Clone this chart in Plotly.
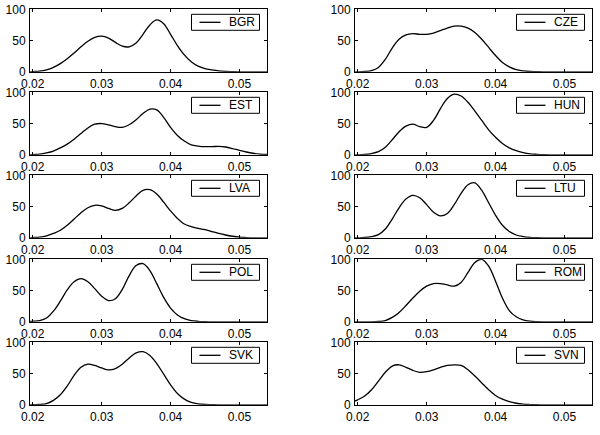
import plotly.graph_objects as go

# shared x grid (rate values)
x_grid = [0.0196, 0.020, 0.021, 0.022, 0.023, 0.024, 0.025, 0.026, 0.027, 0.028,
          0.029, 0.030, 0.031, 0.032, 0.033, 0.034, 0.035, 0.036, 0.037, 0.038,
          0.039, 0.040, 0.041, 0.042, 0.043, 0.044, 0.045, 0.046, 0.047, 0.048,
          0.049, 0.050, 0.051, 0.052, 0.053, 0.054]

countries = ["BGR", "CZE", "EST", "HUN", "LVA", "LTU", "POL", "ROM", "SVK", "SVN"]

bgr = [0, 0.3, 1, 3, 7, 13, 21, 30, 40, 49, 55, 57, 54, 47, 41, 40, 46, 60, 75, 83,
       77, 60, 42, 27, 16, 9, 5, 3, 1.5, 0.7, 0.3, 0, 0, 0, 0, 0]
cze = [0, 0, 0.5, 2, 7, 20, 38, 52, 59, 61, 60, 60, 62, 66, 70, 73, 73, 70, 63, 52,
       39, 26, 15, 8, 3.5, 1.5, 0.5, 0.2, 0, 0, 0, 0, 0, 0, 0, 0]
est = [0, 0.3, 1, 3, 6, 11, 17, 25, 34, 43, 49, 50, 48, 45, 44, 48, 56, 66, 73, 72,
       60, 44, 31, 22, 16, 14, 13, 13, 13.5, 12.5, 10, 7, 4.5, 2.5, 1.2, 0.5]
hun = [0, 0, 0.5, 2, 5, 12, 24, 37, 46, 49, 45, 44, 55, 74, 90, 97, 94, 84, 70, 55,
       40, 28, 18, 11, 6.5, 3.5, 1.5, 0.7, 0.2, 0, 0, 0, 0, 0, 0, 0]
lva = [0, 0.3, 1, 3, 7, 12, 20, 30, 40, 48, 52, 51, 47, 44, 47, 56, 67, 76, 77, 70,
       57, 43, 31, 22, 18, 15, 13, 10, 7, 4.5, 2.5, 1, 0.4, 0, 0, 0]
ltu = [0, 0, 0.5, 2, 5, 14, 30, 48, 62, 68, 64, 53, 41, 35, 39, 53, 71, 85, 88, 76,
       56, 36, 20, 10, 4.5, 2, 0.7, 0.2, 0, 0, 0, 0, 0, 0, 0, 0]
pol = [0.5, 1, 2, 6, 17, 33, 51, 64, 69, 64, 53, 41, 34, 37, 52, 74, 90, 93, 82, 61,
       39, 22, 11, 5, 2, 0.8, 0.3, 0, 0, 0, 0, 0, 0, 0, 0, 0]
rom = [0, 0, 0, 0, 0.5, 2, 7, 15, 26, 38, 49, 57, 61, 61, 59, 57, 63, 79, 95, 100,
       89, 65, 38, 18, 8, 3, 1, 0.3, 0, 0, 0, 0, 0, 0, 0, 0]
svk = [0, 0.2, 0.5, 2, 7, 16, 30, 47, 60, 65, 63, 59, 56, 58, 65, 75, 83, 85, 79, 66,
       49, 32, 18, 9, 4, 1.5, 0.5, 0.2, 0, 0, 0, 0, 0, 0, 0, 0]
svn = [6, 8, 14, 24, 38, 52, 62, 64, 60, 55, 52, 53, 56, 60, 63, 64, 63, 56, 46, 35,
       24, 15, 9, 5, 2.5, 1, 0.4, 0.1, 0, 0, 0, 0, 0, 0, 0, 0]

series = [bgr, cze, est, hun, lva, ltu, pol, rom, svk, svn]

x_ticks = [0.02, 0.03, 0.04, 0.05]
y_ticks = [0, 50, 100]
x_range = [0.0196, 0.054]
y_range = [0, 100]

W, H = 600, 435
FONT = "Liberation Sans, Arial, sans-serif"
col_x = [(30, 267), (355, 592)]
row_top = [9.3, 92.3, 175.3, 259.3, 342.3]
plot_h = 62.5

fig = go.Figure()
layout = {}
shapes = []
annotations = []
for i, (name, vals) in enumerate(zip(countries, series)):
    r, c = divmod(i, 2)
    k = i + 1
    xa = "x" if k == 1 else f"x{k}"
    ya = "y" if k == 1 else f"y{k}"
    fig.add_trace(go.Scatter(
        x=x_grid, y=vals, mode="lines", name=name,
        line=dict(color="black", width=1.3, shape="spline", smoothing=1.0),
        xaxis=xa, yaxis=ya, showlegend=False, hoverinfo="x+y"))
    x0, x1 = col_x[c]
    top = row_top[r]
    bot = top + plot_h
    axis_common = dict(showline=True, linecolor="black", linewidth=1, mirror="ticks",
                       ticks="inside", ticklen=3, tickcolor="black", showgrid=False,
                       zeroline=False, automargin=False,
                       tickfont=dict(family=FONT, size=12, color="black"))
    layout["xaxis" if k == 1 else f"xaxis{k}"] = dict(
        domain=[x0 / W, x1 / W], range=x_range, tickvals=x_ticks,
        ticktext=[f"{v:.2f}" for v in x_ticks],
        anchor=ya, ticklabelstandoff=1, **axis_common)
    layout["yaxis" if k == 1 else f"yaxis{k}"] = dict(
        domain=[1 - bot / H, 1 - top / H], range=y_range, tickvals=y_ticks,
        anchor=xa, ticklabelstandoff=1, **axis_common)

    # legend box (drawn in page coordinates)
    bx1 = x1 - 7.5
    bx0 = bx1 - 68
    by0 = top + 5
    by1 = top + 21
    ym = (by0 + by1) / 2
    shapes.append(dict(type="rect", xref="paper", yref="paper",
                       x0=bx0 / W, x1=bx1 / W, y0=1 - by1 / H, y1=1 - by0 / H,
                       line=dict(color="black", width=1), fillcolor="white", layer="above"))
    shapes.append(dict(type="line", xref="paper", yref="paper",
                       x0=(bx0 + 8) / W, x1=(bx0 + 29) / W, y0=1 - ym / H, y1=1 - ym / H,
                       line=dict(color="black", width=1.3), layer="above"))
    annotations.append(dict(text=name, xref="paper", yref="paper",
                            x=(bx0 + 35.5) / W, y=1 - ym / H, xanchor="left", yanchor="middle",
                            showarrow=False, font=dict(family=FONT, size=12, color="black")))

fig.update_layout(**layout)
fig.update_layout(width=W, height=H, margin=dict(l=0, r=0, t=0, b=0, autoexpand=False),
                  paper_bgcolor="white", plot_bgcolor="white", showlegend=False,
                  shapes=shapes, annotations=annotations)

fig.write_html("out.html")
